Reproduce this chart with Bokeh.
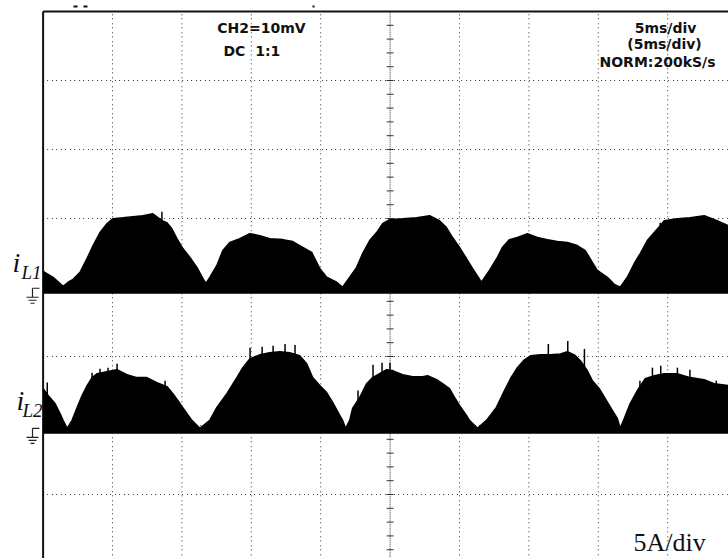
import numpy as np
from bokeh.plotting import figure
from bokeh.models import Range1d, Label
from bokeh.embed import file_html
from bokeh.resources import INLINE

# ---------------- data (time in ms, current in A) ----------------
t_il1 = [0.00, 0.72, 1.44, 1.80, 2.16, 2.66, 3.17, 3.60, 4.10, 4.60, 5.04, 5.76, 6.47, 7.19,
         7.91, 8.56, 8.92, 9.28, 9.64, 10.07, 10.58, 11.08, 11.51, 11.73, 12.01, 12.52, 12.95,
         13.45, 14.17, 14.89, 15.61, 16.33, 17.27, 17.99, 18.71, 19.35, 19.71, 19.93, 20.43,
         21.15, 21.58, 22.09, 22.59, 23.02, 23.53, 24.03, 24.46, 24.96, 25.90, 26.91, 27.84,
         28.56, 29.06, 29.50, 30.00, 30.50, 30.94, 31.58, 32.16, 32.73, 33.09, 33.60, 34.17,
         34.89, 35.61, 36.33, 37.05, 37.77, 38.49, 39.06, 39.57, 39.93, 40.65, 41.15, 41.58,
         42.09, 42.59, 43.02, 43.53, 44.03, 44.46, 44.75, 45.68, 46.62, 47.63, 48.56, 49.38]
i_l1 = [1.37, 0.94, 0.29, 0.58, 0.79, 1.30, 2.31, 3.24, 4.18, 4.82, 5.19, 5.26, 5.33, 5.40,
        5.54, 5.04, 4.90, 4.46, 3.74, 3.02, 2.38, 1.66, 0.86, 0.50, 0.94, 1.80, 2.88,
        3.46, 3.74, 4.10, 3.96, 3.74, 3.67, 3.53, 3.10, 2.74, 2.02, 1.58, 0.94,
        0.58, 0.22, 0.94, 1.66, 2.66, 3.60, 4.18, 4.82, 5.11, 5.18, 5.26, 5.40,
        5.04, 4.54, 3.82, 3.10, 2.30, 1.58, 0.58, 1.44, 2.38, 3.10, 3.67, 3.82,
        4.10, 3.82, 3.67, 3.53, 3.46, 3.24, 2.88, 2.02, 1.44, 0.94, 0.43, 0.22,
        0.94, 1.94, 2.66, 3.60, 4.18, 4.68, 5.04, 5.18, 5.26, 5.40, 5.04, 4.68]

t_il2 = [0.00, 0.36, 0.86, 1.22, 1.44, 1.73, 2.09, 2.45, 2.81, 3.17, 3.53, 3.88, 4.60, 5.32,
         6.04, 6.76, 7.48, 8.20, 8.92, 9.35, 9.86, 10.36, 10.72, 11.29, 12.01, 12.52, 13.24,
         13.96, 14.39, 14.89, 15.61, 16.33, 17.05, 17.77, 18.49, 18.99, 19.42, 19.93, 20.43,
         20.86, 21.37, 21.58, 21.80, 22.09, 22.30, 22.81, 23.31, 23.74, 24.24, 24.75, 25.18,
         25.90, 26.62, 27.34, 27.70, 28.35, 28.78, 29.28, 29.64, 30.00, 30.50, 30.72, 31.29,
         31.94, 32.66, 33.24, 33.67, 34.17, 34.68, 35.11, 35.83, 36.55, 37.27, 37.77, 38.27,
         38.71, 39.21, 39.57, 40.07, 40.50, 41.01, 41.37, 41.58, 41.87, 42.30, 42.81, 43.38,
         44.03, 44.75, 45.68, 46.62, 47.63, 48.35, 49.38]
i_l2 = [3.02, 2.52, 1.94, 1.22, 0.72, 0.14, 0.72, 1.66, 2.52, 3.24, 3.82, 4.10, 4.25, 4.39,
        4.03, 3.82, 3.82, 3.46, 3.17, 2.66, 1.94, 1.22, 0.72, 0.14, 0.72, 1.66, 2.66,
        3.82, 4.54, 5.18, 5.47, 5.62, 5.69, 5.62, 5.40, 4.82, 3.82, 3.24, 2.74,
        2.02, 1.08, 0.72, 0.14, 0.72, 1.58, 2.38, 3.38, 3.82, 4.10, 4.39, 4.32,
        4.03, 3.89, 3.89, 3.96, 3.67, 3.38, 3.02, 2.38, 1.80, 1.08, 0.72, 0.14,
        0.72, 1.66, 2.88, 3.74, 4.54, 5.11, 5.40, 5.47, 5.47, 5.54, 5.69, 5.47,
        5.04, 4.32, 3.60, 3.02, 2.30, 1.44, 0.86, 0.14, 0.86, 1.94, 2.88, 3.74,
        3.96, 4.10, 4.10, 3.82, 3.67, 3.38, 3.24]

# noise spikes (time ms, peak A)
spike_t_il1 = [8.56, 44.46]
spike_a_il1 = [5.69, 4.90]
spike_t_il2 = [0.30, 3.53, 4.10, 4.68, 5.33, 8.79, 14.91, 15.78, 16.57, 17.43, 18.15,
               22.69, 23.77, 24.42, 24.99, 36.40, 37.80, 39.00, 43.00, 43.90, 44.50,
               45.70, 46.60, 48.50]
spike_a_il2 = [3.46, 4.18, 4.46, 4.54, 4.82, 3.60, 5.98, 6.05, 6.12, 6.26, 6.19,
               2.88, 4.75, 4.90, 4.90, 6.26, 6.48, 5.90, 3.60, 4.54, 4.68,
               4.54, 4.39, 3.60]

AMPS_PER_DIV = 5.0
GROUND_IL1 = -0.04   # div
GROUND_IL2 = -2.07   # div

# ---------------- layout helpers (page pixels -> data) ----------------
PX_PER_MS = 13.88
PX_PER_DIV = 69.0
X0_PX = 42.6
Y0_PX = 287.0
W, H = 728, 558

def tx(px):
    return (px - X0_PX) / PX_PER_MS

def dy(py):
    return (Y0_PX - py) / PX_PER_DIV

p = figure(width=W, height=H, output_backend="svg", toolbar_location=None,
           x_range=Range1d(tx(0), tx(W)), y_range=Range1d(dy(H), dy(0)),
           x_axis_type=None, y_axis_type=None, min_border=0)
p.outline_line_color = None
p.grid.visible = False
p.background_fill_color = "white"

GRID_C = "#333333"
DOTS = "1 3 1 4"
# dotted grid
vx = [5 * k for k in range(1, 10) if k != 5]
p.segment(x0=vx, y0=[-4.2] * len(vx), x1=vx, y1=[4.0] * len(vx),
          line_color=GRID_C, line_width=1, line_dash=DOTS)
hy = [3, 2, 1, -1, -2, -3]
p.segment(x0=[0] * len(hy), y0=hy, x1=[50] * len(hy), y1=hy,
          line_color=GRID_C, line_width=1, line_dash=DOTS)
# centre axis with minor ticks
p.segment(x0=[25], y0=[-4.2], x1=[25], y1=[4.0], line_color=GRID_C, line_width=1, line_dash="1 1")
ty = [k * 0.2 for k in range(-20, 20)]
half = 3.5 / PX_PER_MS
p.segment(x0=[25 - half] * len(ty), y0=ty, x1=[25 + half] * len(ty), y1=ty,
          line_color=GRID_C, line_width=1)

# frame (left + top)
p.segment(x0=[0, 0], y0=[-4.2, 4.0], x1=[0, 52], y1=[4.0, 4.0], line_color="#111111", line_width=2)
# small trigger marks above the frame
p.segment(x0=[tx(73), tx(83), tx(312)], y0=[dy(6)] * 3, x1=[tx(77), tx(87), tx(314)], y1=[dy(6)] * 3,
          line_color="#111111", line_width=2)

# traces
def draw_trace(t, a, ground, st, sa):
    up = [ground + v / AMPS_PER_DIV for v in a]
    lo = [ground - 0.25 / AMPS_PER_DIV] * len(t)
    p.varea(x=t, y1=lo, y2=up, fill_color="black")
    p.line(x=t, y=up, line_color="black", line_width=1.5)
    p.segment(x0=st, y0=[ground] * len(st), x1=st, y1=[ground + v / AMPS_PER_DIV for v in sa],
              line_color="black", line_width=1.5)

draw_trace(t_il1, i_l1, GROUND_IL1, spike_t_il1, spike_a_il1)
draw_trace(t_il2, i_l2, GROUND_IL2, spike_t_il2, spike_a_il2)

# ground markers
def ground_marker(gy_px):
    xs0 = [tx(32), tx(32), tx(26), tx(28), tx(30)]
    xs1 = [tx(39), tx(32), tx(38), tx(36), tx(34)]
    ys0 = [dy(gy_px - 2), dy(gy_px - 2), dy(gy_px + 7), dy(gy_px + 10), dy(gy_px + 13)]
    ys1 = [dy(gy_px - 2), dy(gy_px + 7), dy(gy_px + 7), dy(gy_px + 10), dy(gy_px + 13)]
    p.segment(x0=xs0, y0=ys0, x1=xs1, y1=ys1, line_color="#222222", line_width=1.2)

ground_marker(Y0_PX - GROUND_IL1 * PX_PER_DIV)
ground_marker(Y0_PX - GROUND_IL2 * PX_PER_DIV)

def lab(px, py, text, size, font="DejaVu Sans", style="bold", align="left"):
    p.add_layout(Label(x=tx(px), y=dy(py), text=text, text_font=font, text_font_size=size,
                       text_font_style=style, text_align=align, text_baseline="alphabetic",
                       text_color="#111111"))

lab(261, 27, "CH2=10mV", "14px", align="center")
lab(223, 50, "DC\u00a0\u00a01:1", "14px")
lab(665, 27, "5ms/div", "14px", align="center")
lab(664, 43, "(5ms/div)", "14px", align="center")
lab(657, 61, "NORM:200kS/s", "14px", align="center")
lab(633, 542, "5A/div", "26px", font="Liberation Serif", style="normal")

serif = "Liberation Serif"
lab(12, 262, "i", "28px", font=serif, style="italic")
lab(21, 272, "L1", "19px", font=serif, style="italic")
lab(16, 400, "i", "28px", font=serif, style="italic")
lab(22, 410, "L2", "19px", font=serif, style="italic")

open("out.html", "w").write(file_html(p, INLINE))
